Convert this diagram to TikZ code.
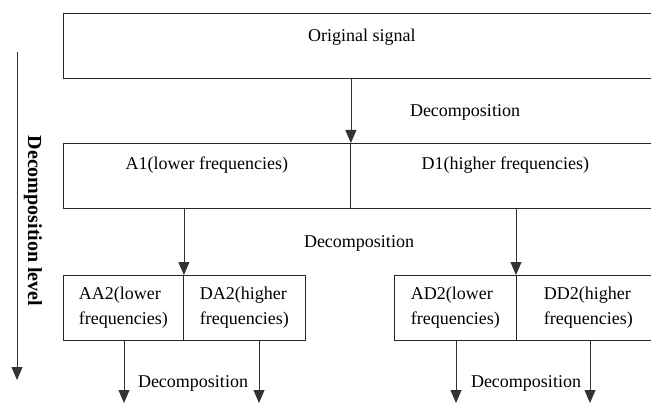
\documentclass[tikz,border=0pt]{standalone}
\usepackage{fontspec}
\setmainfont{Liberation Serif}
\usetikzlibrary{arrows.meta,positioning}

\begin{document}
\begin{tikzpicture}[x=1pt,y=1pt,
  box/.style={rectangle,draw=black!85,line width=0.9pt,inner sep=0pt,anchor=north west,minimum height=65},
  lbl/.style={font=\fontsize{18}{25}\selectfont,inner sep=0pt},
  arr/.style={-{Triangle[width=11pt,length=13pt]},line width=0.8pt,draw=black!80}
]
\clip (0,0) rectangle (651,405);

% level 0
\node[box,minimum width=597] (orig) at (63,392) {};
\node[lbl,below=16 of orig.north] (origtxt) {Original signal};

% level 1
\node[box,minimum width=287] (a1) at (63,262) {};
\node[box,minimum width=310] (d1) at (350,262) {};
\node[lbl,below=14 of a1.north] (a1txt) {A1(lower frequencies)};
\node[lbl,below=14 of d1.north] (d1txt) {D1(higher frequencies)};

% level 2
\node[box,lbl,align=left,minimum width=120] (aa2) at (63,130) {AA2(lower\\frequencies)};
\node[box,lbl,align=left,minimum width=122] (da2) at (183,130) {DA2(higher\\frequencies)};
\node[box,lbl,align=left,minimum width=122] (ad2) at (394,130) {AD2(lower\\frequencies)};
\node[box,lbl,align=left,minimum width=144] (dd2) at (516,130) {DD2(higher\\frequencies)};

\draw[arr] (orig.south -| a1.north east) -- (a1.north east);
\draw[arr] (a1.south -| aa2.north east) -- (aa2.north east);
\draw[arr] (d1.south -| dd2.north west) -- (dd2.north west);

\coordinate (aaend) at (124,2);
\coordinate (daend) at (259,2);
\coordinate (adend) at (456,2);
\coordinate (ddend) at (590,2);
\draw[arr] (aaend |- aa2.south) -- (aaend);
\draw[arr] (daend |- da2.south) -- (daend);
\draw[arr] (adend |- ad2.south) -- (adend);
\draw[arr] (ddend |- dd2.south) -- (ddend);

\node[lbl] (dec0) at (465,293) {Decomposition};
\node[lbl] (dec1) at (359,162) {Decomposition};
\node[lbl] (dec2a) at (193,22) {Decomposition};
\node[lbl] (dec2d) at (526,22) {Decomposition};

% level axis
\coordinate (lvtop) at (17,353);
\coordinate (lvend) at (17,25);
\draw[arr] (lvtop) -- (lvend);
\node[lbl,font=\fontsize{20}{25}\selectfont\bfseries,rotate=-90] (level) at (33,184) {Decomposition level};
\end{tikzpicture}
\end{document}
